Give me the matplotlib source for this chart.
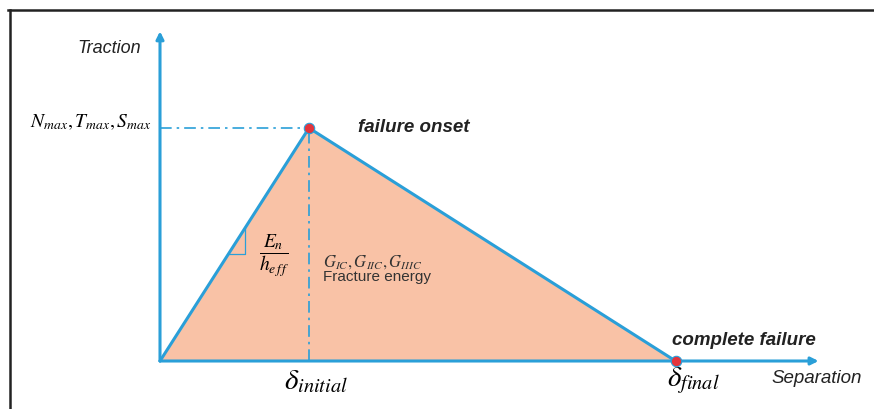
import matplotlib
matplotlib.use("Agg")
import matplotlib.pyplot as plt
from matplotlib.lines import Line2D

plt.rcParams["font.family"] = ["Liberation Sans", "DejaVu Sans"]
plt.rcParams["mathtext.fontset"] = "stix"

# Traction-separation law (normalised: delta_initial = 1, peak traction = 1)
separation = [0.0, 1.0, 3.46]
traction = [0.0, 1.0, 0.0]
onset_label = "failure onset"
final_label = "complete failure"

blue = "#2A9FD8"
fill_color = "#F9C2A6"
red = "#E3343C"

fig = plt.figure(figsize=(8.74, 4.09), dpi=100)
ax = fig.add_axes([0, 0, 1, 1])
ax.axis("off")

# pixel scale: origin at (160, 361), 149 px per separation unit, 233 px per traction unit
ax.set_xlim(-160 / 149, (874 - 160) / 149)
ax.set_ylim(-(409 - 361) / 233, 361 / 233)

d_i, d_f = separation[1], separation[2]
t_max = max(traction)

# --- filled triangle and outline ---
ax.fill(separation, traction, color=fill_color, zorder=1)
ax.plot(separation, traction, color=blue, lw=2.2, zorder=3, solid_capstyle="round")

# --- axes with arrows ---
arrow = dict(arrowstyle="-|>", color=blue, lw=2.2, mutation_scale=11, shrinkA=0, shrinkB=0)
ax.annotate("", xy=(4.42, 0), xytext=(0, 0), arrowprops=arrow, zorder=2)
ax.annotate("", xy=(0, 1.415), xytext=(0, 0), arrowprops=arrow, zorder=2)

# --- dash-dot guides ---
ax.plot([0, d_i], [t_max, t_max], color=blue, lw=1.2, ls=(0, (7, 3, 1.5, 3)), zorder=2)
ax.plot([d_i, d_i], [0, t_max], color=blue, lw=1.2, ls=(0, (7, 3, 1.5, 3)), zorder=2)

# --- slope triangle ---
k = t_max / d_i
tri_x, tri_y = 0.57, 0.459
ax.plot([tri_y / k, tri_x, tri_x], [tri_y, tri_y, k * tri_x], color=blue, lw=0.9, zorder=2)

# --- key points ---
ax.plot([d_i, d_f], [t_max, 0], "o", color=red, mec=blue, mew=0.8, ms=7.5, zorder=4)

# --- labels ---
ax.text(-0.342, 1.343, "Traction", fontsize=13, style="italic", ha="center", va="center", color="#222222")
ax.text(-0.06, 1.026, r"$N_{max}, T_{max}, S_{max}$", fontsize=14, ha="right", va="center")
ax.text(1.329, 1.0, onset_label, fontsize=13.5, style="italic", weight="bold", ha="left", va="center", color="#222222")
ax.text(0.765, 0.45, r"$\dfrac{E_n}{h_{e\,f\,f}}$", fontsize=14, ha="center", va="center")
ax.text(1.094, 0.425, r"$G_{IC}, G_{IIC}, G_{IIIC}$", fontsize=12, ha="left", va="center", color="#333333")
ax.text(1.094, 0.361, "Fracture energy", fontsize=11, ha="left", va="center", color="#333333")
ax.text(3.436, 0.09, final_label, fontsize=13.5, style="italic", weight="bold", ha="left", va="center", color="#222222")
ax.text(d_i + 0.047, -0.085, r"$\delta_{initial}$", fontsize=21, ha="center", va="center")
ax.text(d_f + 0.117, -0.085, r"$\delta_{final}$", fontsize=21, ha="center", va="center")
ax.text(4.107, -0.077, "Separation", fontsize=13.5, style="italic", ha="left", va="center", color="#222222")

# --- frame (left and top only) ---
fig.add_artist(Line2D([10 / 874, 10 / 874], [0, 1 - 10 / 409], color="#222222", lw=1.8, transform=fig.transFigure))
fig.add_artist(Line2D([8 / 874, 1], [1 - 10 / 409, 1 - 10 / 409], color="#222222", lw=1.8, transform=fig.transFigure))

fig.savefig("out.png", dpi=100)
